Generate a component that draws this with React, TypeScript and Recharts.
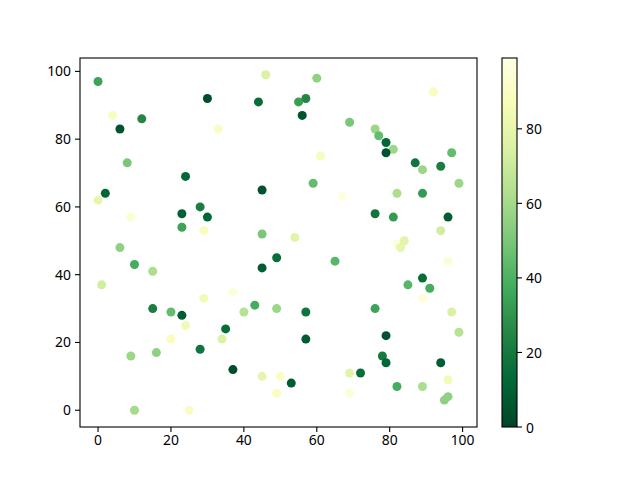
import { ScatterChart, Scatter, XAxis, YAxis, Cell } from 'recharts';

const xs = [
  0, 46, 30, 44, 4, 12, 6, 33, 8, 24, 2, 45, 0, 9, 28, 23, 30, 23, 29, 45, 6,
  60, 57, 55, 56, 92, 69, 61, 76, 77, 79, 81, 79, 97, 87, 89, 94, 59, 99, 67,
  82, 89, 76, 81, 96, 94, 54, 82, 84, 83, 10, 15, 1, 45, 49, 37, 29, 43, 40,
  49, 15, 20, 23, 24, 20, 34, 35, 28, 9, 16, 37, 45, 50, 49, 10, 25, 65, 96,
  89, 85, 91, 89, 57, 76, 97, 99, 57, 79, 78, 79, 94, 53, 69, 72, 96, 82, 89,
  69, 96, 95,
];
const ys = [
  97, 99, 92, 91, 87, 86, 83, 83, 73, 69, 64, 65, 62, 57, 60, 58, 57, 54, 53,
  52, 48, 98, 92, 91, 87, 94, 85, 75, 83, 81, 79, 77, 76, 76, 73, 71, 72, 67,
  67, 63, 64, 64, 58, 57, 57, 53, 51, 49, 50, 48, 43, 41, 37, 42, 45, 35, 33,
  31, 29, 30, 30, 29, 28, 25, 21, 21, 24, 18, 16, 17, 12, 10, 10, 5, 0, 0, 44,
  44, 39, 37, 36, 33, 29, 30, 29, 23, 21, 22, 16, 14, 14, 8, 11, 11, 9, 7, 7,
  5, 4, 3,
];
const cs = [
  35, 75, 3, 15, 88, 25, 5, 90, 50, 12, 12, 5, 80, 93, 22, 10, 12, 35, 88, 50,
  55, 55, 25, 33, 5, 88, 50, 88, 58, 45, 12, 58, 5, 45, 18, 58, 22, 45, 58, 97,
  62, 32, 18, 32, 8, 72, 78, 95, 78, 80, 38, 62, 72, 8, 15, 95, 85, 38, 65, 58,
  22, 45, 8, 85, 88, 75, 15, 18, 58, 55, 3, 80, 90, 90, 60, 90, 42, 95, 15, 42,
  38, 95, 18, 35, 75, 65, 8, 5, 20, 12, 8, 8, 78, 15, 85, 38, 62, 95, 55, 55,
];

const xTicks = [0, 20, 40, 60, 80, 100];
const yTicks = [0, 20, 40, 60, 80, 100];
const cbTicks = [0, 20, 40, 60, 80];
const C_MIN = 0;
const C_MAX = 99;

// YlGn reversed
const CMAP = [
  '#004529', '#006837', '#238443', '#41ab5d', '#78c679',
  '#addd8e', '#d9f0a3', '#f7fcb9', '#ffffe5',
];

const data = xs.map((x, i) => ({ x, y: ys[i], c: cs[i] }));

function hexToRgb(h: string) {
  const n = parseInt(h.slice(1), 16);
  return [(n >> 16) & 255, (n >> 8) & 255, n & 255];
}

function colorFor(v: number) {
  const t = Math.min(1, Math.max(0, (v - C_MIN) / (C_MAX - C_MIN)));
  const pos = t * (CMAP.length - 1);
  const i = Math.min(CMAP.length - 2, Math.floor(pos));
  const f = pos - i;
  const a = hexToRgb(CMAP[i]);
  const b = hexToRgb(CMAP[i + 1]);
  const m = a.map((v0, k) => Math.round(v0 + (b[k] - v0) * f));
  return `rgb(${m[0]},${m[1]},${m[2]})`;
}

const W = 640;
const H = 480;
const LEFT = 80;
const TOP = 58;
const RIGHT = 477;
const BOTTOM = 427;
const CB_X = 502;
const CB_W = 15;
const FONT = '"Noto Sans", sans-serif';
const tickStyle = { fill: '#000', fontSize: 13.9, fontFamily: FONT };

function Colorbar() {
  const h = BOTTOM - TOP;
  const yOf = (v: number) => BOTTOM - ((v - C_MIN) / (C_MAX - C_MIN)) * h;
  return (
    <svg
      width={W}
      height={H}
      style={{ position: 'absolute', left: 0, top: 0, pointerEvents: 'none' }}
    >
      <defs>
        <linearGradient id="cb" x1="0" y1="1" x2="0" y2="0">
          {CMAP.map((c, i) => (
            <stop key={i} offset={i / (CMAP.length - 1)} stopColor={c} />
          ))}
        </linearGradient>
      </defs>
      <rect
        x={LEFT}
        y={TOP}
        width={RIGHT - LEFT}
        height={BOTTOM - TOP}
        fill="none"
        stroke="#000"
        strokeWidth={1.1}
      />
      <rect
        x={CB_X}
        y={TOP}
        width={CB_W}
        height={h}
        fill="url(#cb)"
        stroke="#000"
        strokeWidth={1.1}
      />
      {cbTicks.map((t) => (
        <g key={t}>
          <line
            x1={CB_X + CB_W}
            x2={CB_X + CB_W + 5}
            y1={yOf(t)}
            y2={yOf(t)}
            stroke="#000"
            strokeWidth={1.1}
          />
          <text
            x={CB_X + CB_W + 9}
            y={yOf(t)}
            dominantBaseline="central"
            fontSize={13.9}
            fontFamily={FONT}
            fill="#000"
          >
            {t}
          </text>
        </g>
      ))}
    </svg>
  );
}

export default function App() {
  return (
    <div style={{ position: 'absolute', left: 0, top: 0, width: W, height: H, background: '#fff' }}>
      <ScatterChart
        width={W}
        height={H}
        margin={{ top: TOP, right: W - RIGHT, bottom: H - BOTTOM - 25, left: LEFT - 30 }}
      >
        <XAxis
          type="number"
          dataKey="x"
          domain={[-4.95, 103.95]}
          ticks={xTicks}
          allowDataOverflow
          height={25}
          tickSize={5}
          tickMargin={3}
          axisLine={false}
          tickLine={{ stroke: '#000', strokeWidth: 1.1 }}
          tick={tickStyle}
        />
        <YAxis
          type="number"
          dataKey="y"
          domain={[-4.95, 103.95]}
          ticks={yTicks}
          allowDataOverflow
          width={30}
          tickSize={5}
          tickMargin={4}
          axisLine={false}
          tickLine={{ stroke: '#000', strokeWidth: 1.1 }}
          tick={tickStyle}
        />
        <Scatter
          data={data}
          isAnimationActive={false}
          shape={(p: any) => (
            <circle cx={p.cx} cy={p.cy} r={4.5} fill={colorFor(p.payload.c)} />
          )}
        >
          {data.map((d, i) => (
            <Cell key={i} fill={colorFor(d.c)} />
          ))}
        </Scatter>
      </ScatterChart>
      <Colorbar />
    </div>
  );
}
